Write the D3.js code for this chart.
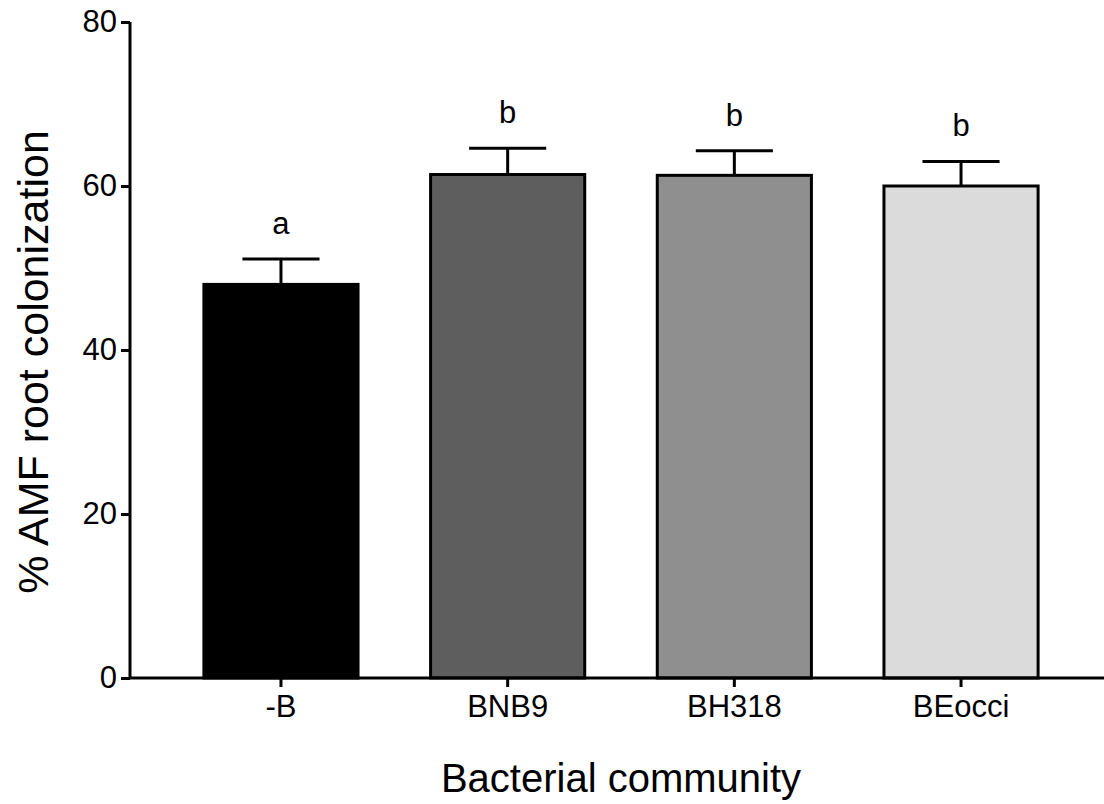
<!DOCTYPE html>
<html><head><meta charset="utf-8">
<script src="https://cdn.jsdelivr.net/npm/d3@7"></script>
<style>body{margin:0;background:#fff}svg{display:block}text{font-family:"Liberation Sans",Arial,sans-serif;fill:#000}</style>
</head><body><svg id="c" width="1104" height="804"></svg>
<script>
const categories = ["-B", "BNB9", "BH318", "BEocci"];
const means = [48.0, 61.4, 61.3, 60.0];
const errors = [3.1, 3.2, 3.0, 3.0];
const letters = ["a", "b", "b", "b"];
const fills = ["#000000", "#5e5e5e", "#8f8f8f", "#dbdbdb"];
const yTicks = [0, 20, 40, 60, 80];

const svg = d3.select("#c");
const x = d3.scaleBand().domain(categories).range([130, 1112]).paddingInner(0.32).paddingOuter(0.326);
const y = d3.scaleLinear().domain([0, 80]).range([678, 22]);

const bars = svg.append("g");
categories.forEach((c, i) => {
  const x0 = x(c), w = x.bandwidth(), cx = x0 + w / 2;
  bars.append("line").attr("x1", cx).attr("x2", cx).attr("y1", y(means[i])).attr("y2", y(means[i] + errors[i]))
    .attr("stroke", "#000").attr("stroke-width", 3);
  bars.append("line").attr("x1", cx - w / 4).attr("x2", cx + w / 4).attr("y1", y(means[i] + errors[i])).attr("y2", y(means[i] + errors[i]))
    .attr("stroke", "#000").attr("stroke-width", 3);
  bars.append("rect").attr("x", x0).attr("y", y(means[i])).attr("width", w).attr("height", y(0) - y(means[i]))
    .attr("fill", fills[i]).attr("stroke", "#000").attr("stroke-width", 3);
  bars.append("text").attr("x", cx).attr("y", y(means[i] + errors[i]) - 25).attr("text-anchor", "middle")
    .attr("font-size", 31).text(letters[i]);
});

const yAxis = svg.append("g").attr("transform", "translate(130,0)")
  .call(d3.axisLeft(y).tickValues(yTicks).tickSize(9).tickSizeOuter(0).tickPadding(4));
yAxis.selectAll("path,line").attr("stroke", "#000").attr("stroke-width", 3);
yAxis.select(".domain").attr("d", `M0,${y(80)}V${y(0)}`);
yAxis.selectAll("text").attr("font-size", 31).attr("font-family", "Liberation Sans, Arial, sans-serif").attr("fill", "#000");

const xAxis = svg.append("g").attr("transform", "translate(0,678)")
  .call(d3.axisBottom(x).tickSize(9).tickSizeOuter(0).tickPadding(8));
xAxis.selectAll("path,line").attr("stroke", "#000").attr("stroke-width", 3);
xAxis.select(".domain").attr("d", "M130,0H1104");
xAxis.selectAll("text").attr("font-size", 31).attr("font-family", "Liberation Sans, Arial, sans-serif").attr("fill", "#000");

svg.append("text").attr("x", 621).attr("y", 792).attr("text-anchor", "middle").attr("font-size", 40).text("Bacterial community");
svg.append("text").attr("transform", "translate(48,362) rotate(-90)").attr("text-anchor", "middle").attr("font-size", 43).text("% AMF root colonization");
</script></body></html>
